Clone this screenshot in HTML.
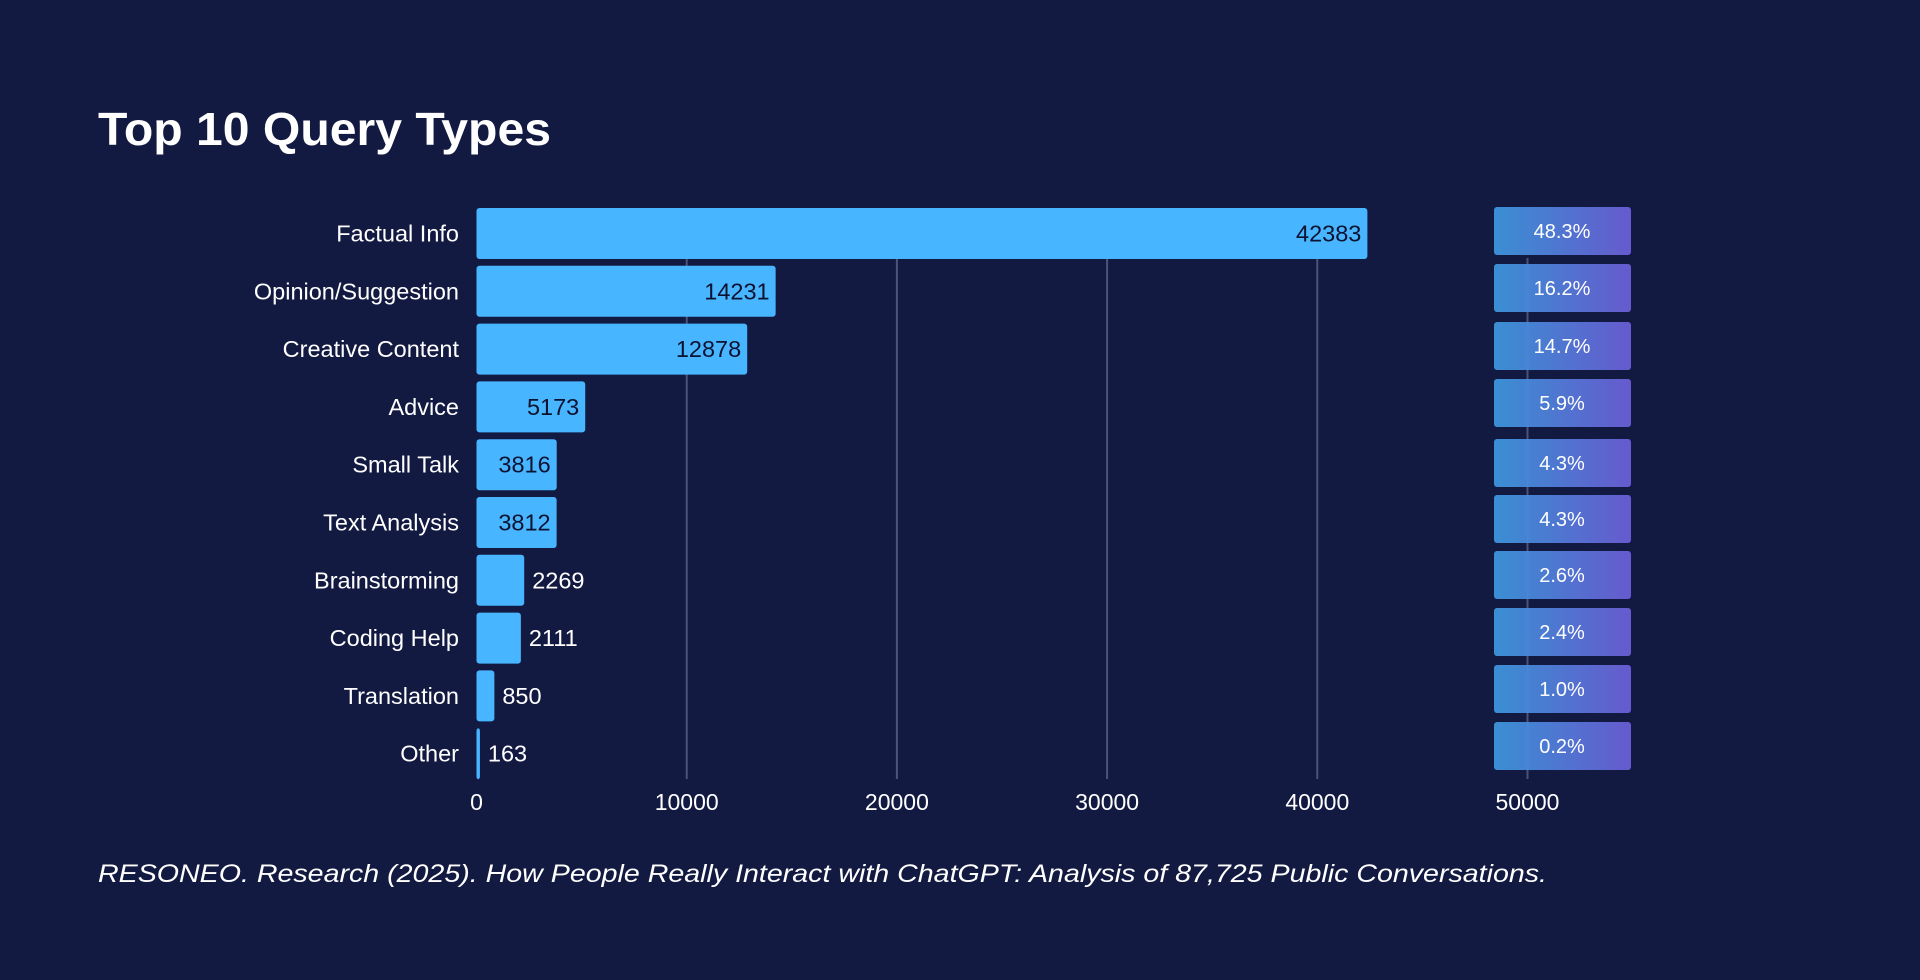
<!DOCTYPE html>
<html><head><meta charset="utf-8"><style>
html,body{margin:0;padding:0;background:#131a42;width:1920px;height:980px;overflow:hidden;font-family:"Liberation Sans",sans-serif;}
</style></head><body>
<svg width="1920" height="980" xmlns="http://www.w3.org/2000/svg">
<defs><linearGradient id="pg" x1="0" x2="1" y1="0" y2="0"><stop offset="0" stop-color="#3d98de"/><stop offset="1" stop-color="#6c5fd8"/></linearGradient></defs>
<text x="98" y="145" fill="#ffffff" font-size="46" font-weight="bold" textLength="453" lengthAdjust="spacingAndGlyphs">Top 10 Query Types</text>
<g id="grid"></g><g id="bars"></g><g id="pct"></g><g id="axis"></g>
<text x="98" y="882" fill="#ffffff" font-size="25" font-style="italic" textLength="1449" lengthAdjust="spacingAndGlyphs">RESONEO. Research (2025). How People Really Interact with ChatGPT: Analysis of 87,725 Public Conversations.</text>
</svg>
<script>
const categories=["Factual Info","Opinion/Suggestion","Creative Content","Advice","Small Talk","Text Analysis","Brainstorming","Coding Help","Translation","Other"];
const values=[42383,14231,12878,5173,3816,3812,2269,2111,850,163];
const percents=["48.3%","16.2%","14.7%","5.9%","4.3%","4.3%","2.6%","2.4%","1.0%","0.2%"];
const ticks=[0,10000,20000,30000,40000,50000];
const NS="http://www.w3.org/2000/svg";
const x0=476.5,pxPer=210.2/10000;
const xs=v=>x0+v*pxPer;
const yc=i=>233.5+i*57.8;
const pctCenters=[231,288,346,403,463,519,575,632,689,746];
function mk(tag,attrs,parent,txt){const e=document.createElementNS(NS,tag);for(const k in attrs)e.setAttribute(k,attrs[k]);if(txt!==undefined)e.textContent=txt;parent.appendChild(e);return e;}
const grid=document.getElementById('grid'),bars=document.getElementById('bars'),pct=document.getElementById('pct'),axis=document.getElementById('axis');
ticks.forEach(t=>{
  if(t>0){const l=mk('line',{x1:xs(t),x2:xs(t),y1:258,y2:779,stroke:'#4a5378','stroke-width':2},grid);
  
  }
  const tx=mk('text',{x:xs(t),y:810,fill:'#fff','font-size':23,'text-anchor':'middle'},axis,String(t));
  
  
});
categories.forEach((c,i)=>{
  const y=yc(i),w=values[i]*pxPer;
  const lab=mk('text',{x:459,y:y+8,fill:'#fff','font-size':23.5,'text-anchor':'end'},bars,c);
  
  
  const r=mk('rect',{x:x0,y:y-25.5,width:Math.max(w,2),height:51,rx:3,fill:'#47b5ff'},bars);
  
  
  const s=String(values[i]);const tw=s.length*13;
  const inside=w>tw+16;
  const v=mk('text',{x:inside?x0+w-6:x0+w+8,y:y+8,fill:inside?'#0d1230':'#fff','font-size':23.5,'text-anchor':inside?'end':'start'},bars,s);
  
  
  const py=pctCenters[i];
  const pb=mk('rect',{x:1494,y:py-24,width:137,height:48,rx:3,fill:'url(#pg)',opacity:0.93},pct);
  
  
  const pt=mk('text',{x:1562,y:py+7,fill:'#fff','font-size':20,'text-anchor':'middle'},pct,percents[i]);
  
  
});
</script>
</body></html>
